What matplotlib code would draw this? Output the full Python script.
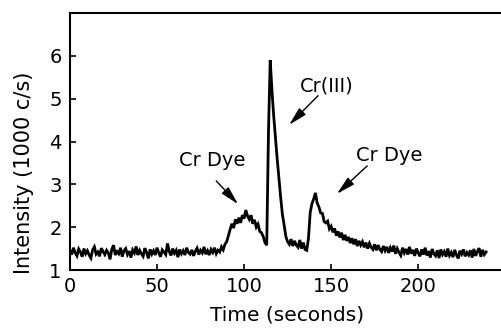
import numpy as np
import matplotlib
matplotlib.use("Agg")
import matplotlib.pyplot as plt

# time in seconds (1 s sampling)
time_s = list(range(0, 240))
intensity = [
    1.45, 1.36, 1.52, 1.40, 1.33, 1.49, 1.42, 1.31, 1.50, 1.38,
    1.45, 1.35, 1.28, 1.47, 1.54, 1.37, 1.42, 1.32, 1.51, 1.43,
    1.36, 1.46, 1.40, 1.25, 1.48, 1.58, 1.35, 1.43, 1.38, 1.52,
    1.31, 1.45, 1.50, 1.36, 1.44, 1.29, 1.47, 1.40, 1.55, 1.35,
    1.46, 1.38, 1.32, 1.51, 1.41, 1.27, 1.48, 1.37, 1.45, 1.35,
    1.52, 1.40, 1.31, 1.47, 1.42, 1.36, 1.62, 1.43, 1.34, 1.50,
    1.39, 1.46, 1.30, 1.48, 1.38, 1.45, 1.35, 1.52, 1.41, 1.37,
    1.47, 1.33, 1.44, 1.51, 1.36, 1.46, 1.40, 1.54, 1.37, 1.45,
    1.35, 1.48, 1.41, 1.52, 1.38, 1.46, 1.42, 1.54, 1.47, 1.60,
    1.66, 1.80, 1.95, 2.08, 1.98, 2.18, 2.08, 2.22, 2.10, 2.28,
    2.20, 2.40, 2.26, 2.18, 2.28, 2.08, 2.17, 2.00, 2.07, 1.90,
    1.87, 1.78, 1.64, 1.58, 4.20, 5.90, 5.20, 4.60, 4.10, 3.60,
    3.15, 2.70, 2.30, 2.05, 1.78, 1.66, 1.60, 1.72, 1.56, 1.68,
    1.58, 1.53, 1.70, 1.50, 1.64, 1.48, 1.46, 1.75, 2.35, 2.55,
    2.66, 2.80, 2.56, 2.47, 2.33, 2.32, 2.13, 2.10, 2.14, 1.96,
    2.02, 1.88, 1.97, 1.80, 1.90, 1.76, 1.87, 1.70, 1.82, 1.68,
    1.77, 1.63, 1.74, 1.60, 1.72, 1.56, 1.68, 1.58, 1.66, 1.53,
    1.64, 1.50, 1.62, 1.53, 1.48, 1.60, 1.46, 1.58, 1.48, 1.43,
    1.56, 1.45, 1.54, 1.40, 1.52, 1.43, 1.57, 1.38, 1.50, 1.41,
    1.34, 1.52, 1.40, 1.49, 1.36, 1.54, 1.38, 1.47, 1.33, 1.50,
    1.40, 1.32, 1.48, 1.36, 1.52, 1.34, 1.44, 1.29, 1.49, 1.38,
    1.33, 1.46, 1.28, 1.48, 1.36, 1.43, 1.31, 1.50, 1.34, 1.41,
    1.30, 1.47, 1.35, 1.27, 1.45, 1.37, 1.48, 1.32, 1.41, 1.35,
    1.46, 1.29, 1.49, 1.33, 1.43, 1.51, 1.31, 1.47, 1.36, 1.42,
]

x_ticks = [0, 50, 100, 150, 200]
y_ticks = [1, 2, 3, 4, 5, 6]

# annotations: label, text position, arrow tail, arrow tip (data coords)
ann_labels = ["Cr Dye", "Cr(III)", "Cr Dye"]
ann_text_xy = [(81.9, 3.55), (147.7, 5.30), (183.6, 3.67)]
ann_tail_xy = [(84.0, 3.08), (142.5, 5.07), (170.7, 3.43)]
ann_tip_xy = [(96.5, 2.54), (125.9, 4.39), (153.4, 2.78)]

fig = plt.figure(figsize=(5.01, 3.31), dpi=100)
ax = fig.add_axes([70 / 501, 1 - 270 / 331, 430 / 501, 257 / 331])

ax.plot(time_s, intensity, color="black", lw=2.0, solid_joinstyle="miter")

ax.set_xlim(0, 247)
ax.set_ylim(1, 7)
ax.set_xticks(x_ticks)
ax.set_yticks(y_ticks)
ax.tick_params(direction="in", length=4, width=1.2, labelsize=14,
               colors="black")
ax.tick_params(axis="y", pad=6)
ax.tick_params(axis="x", pad=5)
for side in ["left", "bottom", "top"]:
    ax.spines[side].set_linewidth(1.5)
ax.spines["right"].set_visible(False)

ax.set_xlabel("Time (seconds)", fontsize=14.5)
ax.set_ylabel("Intensity (1000 c/s)", fontsize=15)
ax.xaxis.set_label_coords(0.505, -0.14)
ax.yaxis.set_label_coords(-0.084, 0.377)

for lab, txy, tail, tip in zip(ann_labels, ann_text_xy, ann_tail_xy, ann_tip_xy):
    ax.text(txy[0], txy[1], lab, fontsize=14, ha="center", va="center")
    ax.annotate("", xy=tip, xytext=tail,
                arrowprops=dict(arrowstyle="-|>,head_length=0.8,head_width=0.2",
                                color="black", lw=1.0, mutation_scale=14,
                                shrinkA=0, shrinkB=0))

fig.savefig("out.png", dpi=100)
